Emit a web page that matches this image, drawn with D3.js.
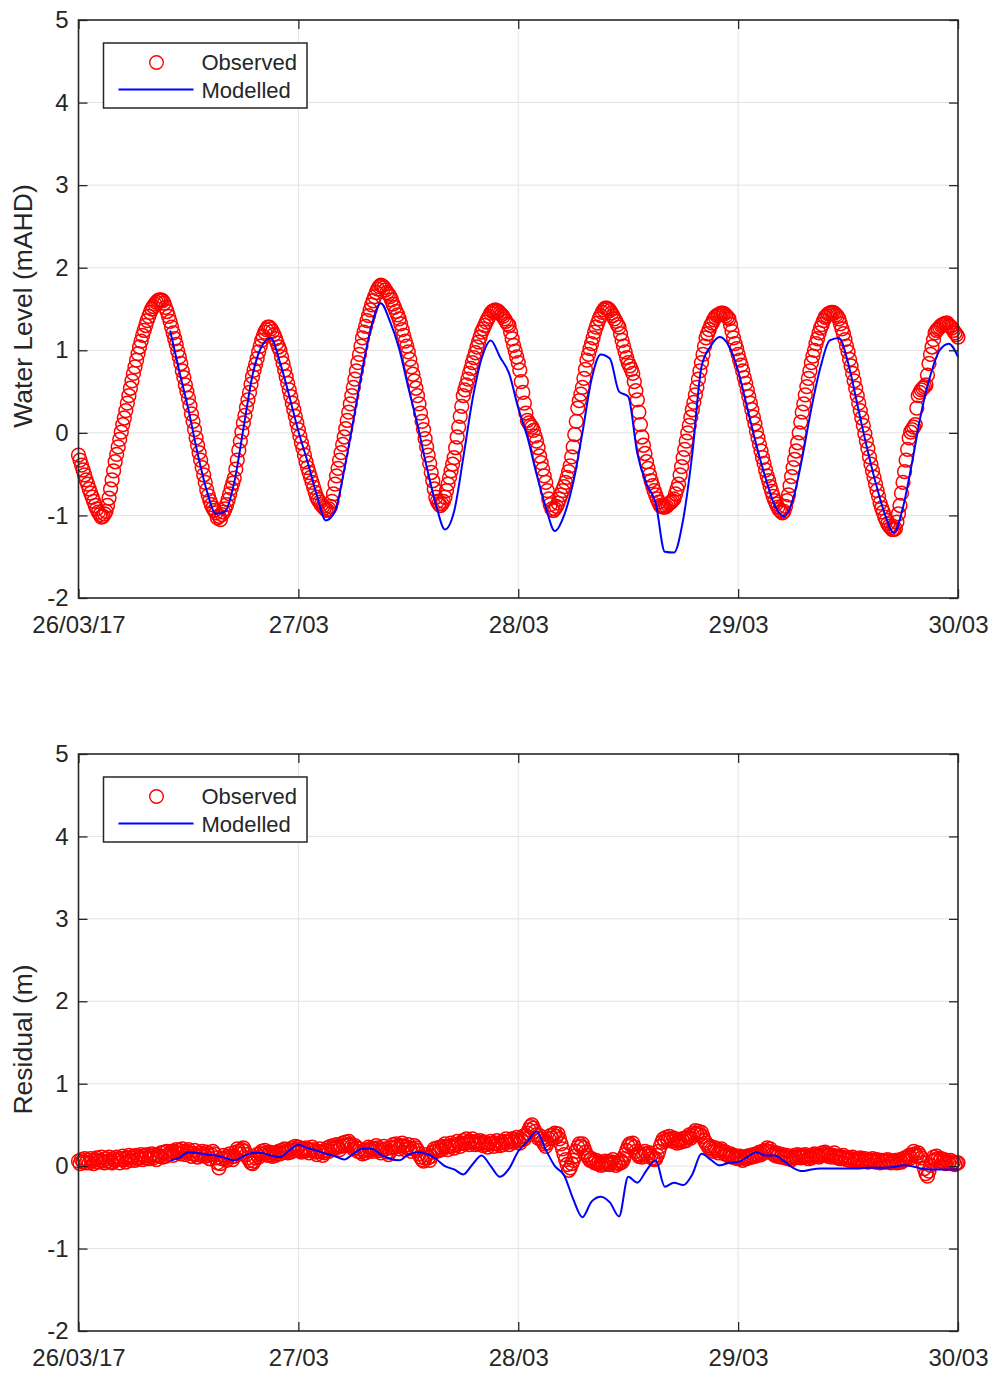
<!DOCTYPE html>
<html>
<head>
<meta charset="utf-8">
<script src="https://cdn.jsdelivr.net/npm/d3@7"></script>
<style>
  html, body { margin: 0; padding: 0; background: #fff; }
  svg text { font-family: "Liberation Sans", Arial, Helvetica, sans-serif; fill: #262626; }
</style>
</head>
<body>
<svg id="fig" width="996" height="1373"></svg>
<script>
// ---- data ---------------------------------------------------------------
const xTickLabels = ["26/03/17", "27/03", "28/03", "29/03", "30/03"];
const yTickValues = [-2, -1, 0, 1, 2, 3, 4, 5];

// observed gauge record: 10-minute samples from 26/03/2017 00:00
const observedStart = new Date(2017, 2, 26, 0, 0);
const observedStepMinutes = 10;
const observedLevel = [
  -0.27,-0.33,-0.39,-0.45,-0.51,-0.57, -0.62,-0.68,-0.73,-0.78,-0.83,-0.88,
  -0.92,-0.96,-0.99,-1.02,-1.01,-0.98, -0.95,-0.88,-0.79,-0.68,-0.57,-0.46,
  -0.35,-0.26,-0.17,-0.08,0.01,0.10, 0.18,0.27,0.36,0.45,0.54,0.63,
  0.72,0.80,0.88,0.96,1.04,1.11, 1.18,1.24,1.30,1.36,1.41,1.46,
  1.50,1.53,1.56,1.58,1.60,1.61, 1.61,1.60,1.57,1.52,1.47,1.41,
  1.35,1.28,1.21,1.14,1.07,0.99, 0.92,0.84,0.75,0.67,0.58,0.50,
  0.42,0.33,0.23,0.14,0.04,-0.06, -0.15,-0.24,-0.33,-0.42,-0.51,-0.60,
  -0.69,-0.76,-0.82,-0.87,-0.91,-0.94, -0.97,-1.03,-1.01,-1.05,-0.99,-0.96,
  -0.92,-0.87,-0.81,-0.74,-0.67,-0.61, -0.55,-0.44,-0.33,-0.21,-0.10,0.01,
  0.12,0.21,0.31,0.40,0.49,0.59, 0.68,0.76,0.83,0.90,0.98,1.05,
  1.12,1.17,1.22,1.25,1.28,1.28, 1.26,1.23,1.19,1.14,1.09,1.04,
  1.00,0.92,0.84,0.76,0.68,0.60, 0.52,0.44,0.36,0.28,0.20,0.12,
  0.04,-0.04,-0.12,-0.19,-0.27,-0.35, -0.42,-0.48,-0.54,-0.60,-0.66,-0.72,
  -0.78,-0.81,-0.84,-0.87,-0.89,-0.91, -0.93,-0.94,-0.92,-0.89,-0.83,-0.74,
  -0.62,-0.52,-0.43,-0.33,-0.24,-0.14, -0.05,0.05,0.15,0.25,0.35,0.45,
  0.55,0.65,0.75,0.85,0.95,1.05, 1.15,1.22,1.29,1.36,1.42,1.49,
  1.55,1.60,1.65,1.70,1.74,1.77, 1.79,1.78,1.76,1.73,1.70,1.68,
  1.65,1.61,1.56,1.52,1.47,1.43, 1.38,1.32,1.25,1.18,1.11,1.05,
  0.98,0.89,0.80,0.71,0.63,0.54, 0.45,0.35,0.24,0.14,0.04,-0.07,
  -0.17,-0.27,-0.37,-0.48,-0.58,-0.68, -0.78,-0.83,-0.86,-0.88,-0.86,-0.83,
  -0.78,-0.70,-0.62,-0.54,-0.46,-0.38, -0.30,-0.18,-0.05,0.07,0.20,0.32,
  0.45,0.52,0.58,0.65,0.72,0.78, 0.85,0.91,0.97,1.04,1.10,1.16,
  1.22,1.26,1.30,1.34,1.38,1.41, 1.45,1.47,1.48,1.49,1.48,1.47,
  1.45,1.43,1.41,1.38,1.35,1.32, 1.30,1.22,1.14,1.06,0.99,0.92,
  0.85,0.76,0.62,0.49,0.36,0.24, 0.15,0.12,0.09,0.07,0.03,-0.04,
  -0.10,-0.18,-0.28,-0.36,-0.44,-0.52, -0.60,-0.70,-0.80,-0.87,-0.92,-0.94,
  -0.92,-0.89,-0.85,-0.80,-0.75,-0.70, -0.65,-0.60,-0.54,-0.47,-0.40,-0.29,
  -0.17,-0.02,0.14,0.30,0.39,0.47, 0.55,0.66,0.77,0.88,0.95,1.02,
  1.08,1.15,1.22,1.28,1.33,1.38, 1.42,1.46,1.49,1.51,1.51,1.50,
  1.48,1.45,1.42,1.38,1.35,1.31, 1.28,1.20,1.12,1.05,0.98,0.91,
  0.85,0.81,0.77,0.72,0.62,0.51, 0.40,0.25,0.10,-0.05,-0.15,-0.25,
  -0.35,-0.43,-0.51,-0.58,-0.64,-0.70, -0.75,-0.80,-0.84,-0.88,-0.89,-0.90,
  -0.90,-0.89,-0.87,-0.85,-0.84,-0.82, -0.80,-0.74,-0.68,-0.62,-0.51,-0.41,
  -0.30,-0.20,-0.10,0.00,0.09,0.19, 0.28,0.37,0.46,0.55,0.65,0.75,
  0.85,0.95,1.05,1.15,1.20,1.25, 1.30,1.33,1.37,1.40,1.42,1.43,
  1.44,1.45,1.45,1.44,1.42,1.40, 1.38,1.31,1.23,1.15,1.08,1.02,
  0.95,0.88,0.82,0.75,0.67,0.60, 0.52,0.44,0.36,0.28,0.19,0.11,
  0.02,-0.06,-0.14,-0.22,-0.30,-0.37, -0.45,-0.52,-0.58,-0.65,-0.71,-0.77,
  -0.82,-0.86,-0.90,-0.93,-0.95,-0.97, -0.95,-0.89,-0.82,-0.75,-0.64,-0.53,
  -0.42,-0.32,-0.22,-0.12,0.00,0.13, 0.25,0.35,0.46,0.56,0.66,0.75,
  0.85,0.93,1.00,1.08,1.14,1.21, 1.27,1.31,1.36,1.40,1.42,1.44,
  1.45,1.46,1.46,1.45,1.43,1.41, 1.38,1.32,1.26,1.20,1.13,1.05,
  0.98,0.89,0.81,0.72,0.63,0.54, 0.45,0.36,0.27,0.18,0.09,-0.01,
  -0.10,-0.19,-0.29,-0.38,-0.46,-0.54, -0.62,-0.70,-0.77,-0.85,-0.91,-0.96,
  -1.02,-1.06,-1.10,-1.13,-1.15,-1.17, -1.17,-1.16,-1.08,-0.98,-0.88,-0.73,
  -0.60,-0.47,-0.33,-0.20,-0.06,0.01, 0.04,0.07,0.10,0.30,0.45,0.49,
  0.52,0.54,0.56,0.58,0.70,0.84, 0.95,1.04,1.13,1.21,1.24,1.26,
  1.28,1.30,1.31,1.32,1.33,1.33, 1.30,1.29,1.27,1.24,1.21,1.19,
  1.16
];
const observedResidual = [
  0.06,0.03,0.08,0.05,0.09,0.04, 0.07,0.04,0.09,0.06,0.03,0.08,
  0.10,0.05,0.07,0.11,0.06,0.04, 0.09,0.06,0.11,0.05,0.04,0.09,
  0.07,0.11,0.08,0.04,0.09,0.12, 0.08,0.05,0.10,0.13,0.07,0.10,
  0.12,0.07,0.13,0.09,0.11,0.14, 0.08,0.12,0.10,0.14,0.09,0.12,
  0.15,0.10,0.13,0.08,0.14,0.12, 0.16,0.11,0.17,0.12,0.18,0.14,
  0.15,0.18,0.13,0.17,0.20,0.16, 0.19,0.15,0.21,0.17,0.14,0.18,
  0.20,0.16,0.12,0.15,0.19,0.14, 0.11,0.16,0.13,0.18,0.15,0.12,
  0.17,0.13,0.09,0.14,0.18,0.15, 0.10,0.04,-0.02,0.03,0.09,0.13,
  0.10,0.07,0.12,0.15,0.11,0.08, 0.12,0.17,0.21,0.18,0.15,0.20,
  0.22,0.18,0.14,0.10,0.07,0.04, 0.03,0.06,0.10,0.14,0.11,0.15,
  0.18,0.15,0.19,0.16,0.13,0.17, 0.14,0.12,0.16,0.13,0.15,0.18,
  0.15,0.19,0.17,0.21,0.18,0.16, 0.20,0.17,0.22,0.19,0.24,0.21,
  0.23,0.19,0.17,0.21,0.18,0.22, 0.20,0.16,0.19,0.23,0.20,0.17,
  0.14,0.18,0.21,0.17,0.13,0.16, 0.19,0.22,0.18,0.24,0.21,0.25,
  0.22,0.26,0.23,0.20,0.24,0.28, 0.25,0.29,0.26,0.30,0.27,0.24,
  0.21,0.25,0.22,0.18,0.21,0.17, 0.15,0.19,0.16,0.20,0.23,0.19,
  0.22,0.18,0.21,0.25,0.22,0.19, 0.16,0.20,0.24,0.21,0.17,0.14,
  0.18,0.22,0.26,0.23,0.27,0.24, 0.21,0.25,0.28,0.24,0.20,0.23,
  0.26,0.22,0.18,0.21,0.25,0.22, 0.19,0.15,0.11,0.08,0.06,0.10,
  0.14,0.10,0.07,0.12,0.17,0.21, 0.18,0.22,0.19,0.23,0.20,0.24,
  0.27,0.23,0.20,0.24,0.28,0.25, 0.22,0.26,0.30,0.27,0.24,0.28,
  0.31,0.27,0.33,0.29,0.26,0.30, 0.33,0.29,0.26,0.30,0.27,0.31,
  0.28,0.25,0.29,0.26,0.23,0.27, 0.30,0.27,0.24,0.28,0.31,0.27,
  0.25,0.29,0.26,0.30,0.33,0.29, 0.26,0.30,0.33,0.29,0.32,0.35,
  0.31,0.28,0.32,0.36,0.33,0.37, 0.40,0.44,0.48,0.50,0.46,0.42,
  0.38,0.34,0.37,0.33,0.30,0.27, 0.24,0.28,0.33,0.37,0.34,0.38,
  0.40,0.36,0.39,0.33,0.27,0.21, 0.14,0.08,0.02,-0.05,-0.02,0.03,
  0.07,0.12,0.18,0.23,0.27,0.24, 0.27,0.22,0.17,0.13,0.10,0.07,
  0.09,0.06,0.04,0.07,0.03,0.05, 0.01,0.04,0.02,0.06,0.03,0.05,
  0.02,0.05,0.08,0.04,0.01,0.04, 0.03,0.07,0.05,0.09,0.14,0.19,
  0.24,0.27,0.25,0.28,0.23,0.18, 0.15,0.12,0.14,0.11,0.15,0.18,
  0.15,0.12,0.16,0.13,0.10,0.08, 0.09,0.13,0.18,0.24,0.29,0.33,
  0.30,0.35,0.32,0.36,0.33,0.30, 0.34,0.31,0.28,0.32,0.29,0.33,
  0.30,0.34,0.31,0.35,0.38,0.34, 0.37,0.40,0.43,0.39,0.42,0.38,
  0.41,0.36,0.31,0.28,0.25,0.22, 0.24,0.21,0.18,0.22,0.19,0.16,
  0.19,0.21,0.18,0.15,0.17,0.14, 0.12,0.15,0.11,0.13,0.10,0.12,
  0.09,0.12,0.10,0.07,0.11,0.09, 0.12,0.10,0.13,0.11,0.14,0.12,
  0.15,0.13,0.17,0.14,0.18,0.16, 0.19,0.22,0.18,0.21,0.17,0.15,
  0.13,0.16,0.12,0.15,0.11,0.14, 0.12,0.10,0.13,0.09,0.11,0.08,
  0.10,0.13,0.11,0.14,0.12,0.10, 0.13,0.11,0.14,0.12,0.09,0.12,
  0.10,0.13,0.15,0.12,0.14,0.11, 0.13,0.16,0.14,0.17,0.15,0.12,
  0.14,0.11,0.13,0.16,0.12,0.10, 0.12,0.09,0.11,0.13,0.10,0.08,
  0.10,0.07,0.09,0.11,0.08,0.06, 0.09,0.07,0.10,0.08,0.06,0.09,
  0.07,0.05,0.08,0.06,0.09,0.07, 0.05,0.08,0.06,0.04,0.07,0.05,
  0.07,0.05,0.08,0.06,0.04,0.06, 0.05,0.07,0.04,0.06,0.08,0.05,
  0.07,0.10,0.08,0.11,0.13,0.10, 0.14,0.18,0.15,0.12,0.16,0.13,
  0.10,0.04,-0.03,-0.09,-0.12,-0.06, 0.01,0.06,0.11,0.08,0.12,0.09,
  0.06,0.09,0.05,0.08,0.03,0.06, 0.04,0.07,0.03,0.05,0.02,0.04,
  0.04
];

// hydrodynamic model output: hourly from 26/03/2017 10:00
const modelledStart = new Date(2017, 2, 26, 10, 0);
const modelledStepMinutes = 60;
const modelledLevel = [
  1.24, 0.75, 0.28,-0.25,-0.70,-0.98,-0.95,-0.60, 0.05, 0.70, 1.05, 1.15, 0.85, 0.45,
  0.02,-0.35,-0.75,-1.06,-0.95,-0.45, 0.15, 0.78, 1.30, 1.57, 1.35, 1.02, 0.55, 0.10,
 -0.41,-0.86,-1.17,-0.95,-0.30, 0.40, 0.90, 1.12, 0.92, 0.72, 0.30,-0.05,-0.50,-0.90,
 -1.19,-1.00,-0.60, 0.00, 0.65, 0.95, 0.90, 0.50, 0.44,-0.25,-0.62,-0.85,-1.44,-1.45,
 -1.05,-0.25, 0.80, 1.05, 1.16, 1.05, 0.75, 0.30,-0.15,-0.55,-0.88,-1.01,-0.80,-0.30,
  0.30, 0.80, 1.12, 1.15, 0.85, 0.35,-0.15,-0.60,-0.98,-1.21,-0.90,-0.35, 0.25, 0.70,
  1.00, 1.08, 0.92
];
const modelledResidual = [
  0.07, 0.10, 0.17, 0.16, 0.14, 0.13, 0.10, 0.07, 0.12, 0.16, 0.16, 0.13, 0.11, 0.19,
  0.26, 0.22, 0.19, 0.15, 0.12, 0.08, 0.15, 0.21, 0.21, 0.14, 0.09, 0.07, 0.14, 0.17,
  0.15, 0.09, 0.00,-0.04,-0.10, 0.02, 0.13, 0.00,-0.13,-0.03, 0.18, 0.30, 0.42, 0.20,
  0.00,-0.11,-0.40,-0.62,-0.43,-0.37,-0.44,-0.61,-0.13,-0.20,-0.05, 0.07,-0.25,-0.20,
 -0.23,-0.10, 0.15, 0.08, 0.01, 0.04, 0.05, 0.11, 0.17, 0.13, 0.13, 0.06,-0.02,-0.06,
 -0.04,-0.03,-0.03,-0.03,-0.03,-0.03,-0.02,-0.02,-0.02,-0.01, 0.01, 0.00,-0.03,-0.04,
 -0.04,-0.04,-0.04
];

// ---- drawing ------------------------------------------------------------
const svg = d3.select("#fig");
svg.append("rect").attr("width", 996).attr("height", 1373).attr("fill", "#fff");

const fontStack = '"Liberation Sans", Arial, Helvetica, sans-serif';
const axisColor = "#262626";
const gridColor = "#e3e3e3";
const tickFont = 24;
const left = 78.5, right = 958;

const x = d3.scaleTime()
  .domain([new Date(2017, 2, 26), new Date(2017, 2, 30)])
  .range([left, right]);
const xTickDates = d3.range(xTickLabels.length).map(i => new Date(2017, 2, 26 + i));

function series(start, stepMinutes, values) {
  return values.map((v, i) => ({ t: d3.timeMinute.offset(start, i * stepMinutes), v }));
}

function panel(top, bottom, obsValues, modValues, yLabel) {
  const y = d3.scaleLinear().domain([-2, 5]).range([bottom, top]);
  const g = svg.append("g");

  // grid
  g.append("g").selectAll("line").data(yTickValues.slice(1, -1)).join("line")
    .attr("x1", left).attr("x2", right)
    .attr("y1", d => y(d)).attr("y2", d => y(d))
    .attr("stroke", gridColor).attr("stroke-width", 1);
  g.append("g").selectAll("line").data(xTickDates.slice(1, -1)).join("line")
    .attr("x1", d => x(d)).attr("x2", d => x(d))
    .attr("y1", top).attr("y2", bottom)
    .attr("stroke", gridColor).attr("stroke-width", 1);

  // observed markers
  g.append("g").selectAll("circle")
    .data(series(observedStart, observedStepMinutes, obsValues)).join("circle")
    .attr("cx", d => x(d.t)).attr("cy", d => y(d.v)).attr("r", 6.9)
    .attr("fill", "none").attr("stroke", "#ff0000").attr("stroke-width", 1.5);

  // modelled line
  const line = d3.line().curve(d3.curveMonotoneX).x(d => x(d.t)).y(d => y(d.v));
  g.append("path")
    .datum(series(modelledStart, modelledStepMinutes, modValues))
    .attr("d", line).attr("fill", "none")
    .attr("stroke", "#0000ff").attr("stroke-width", 2).attr("stroke-linejoin", "round");

  // axes with inward ticks
  const styleAxis = sel => {
    sel.select(".domain").remove();
    sel.selectAll(".tick line").attr("stroke", axisColor).attr("stroke-width", 1.3);
    sel.selectAll(".tick text").attr("fill", axisColor)
      .style("font-size", tickFont + "px")
      .style("font-family", fontStack);
  };
  g.append("g").attr("transform", `translate(${left},0)`)
    .call(d3.axisLeft(y).tickValues(yTickValues).tickFormat(d => String(d))
      .tickSize(-9).tickPadding(10))
    .call(styleAxis);
  g.append("g").attr("transform", `translate(${right},0)`)
    .call(d3.axisRight(y).tickValues(yTickValues).tickFormat("").tickSize(-9))
    .call(styleAxis);
  g.append("g").attr("transform", `translate(0,${bottom})`)
    .call(d3.axisBottom(x).tickValues(xTickDates).tickFormat((d, i) => xTickLabels[i])
      .tickSize(-9).tickPadding(18))
    .call(styleAxis);
  g.append("g").attr("transform", `translate(0,${top})`)
    .call(d3.axisTop(x).tickValues(xTickDates).tickFormat("").tickSize(-9))
    .call(styleAxis);

  // box
  g.append("rect").attr("x", left).attr("y", top)
    .attr("width", right - left).attr("height", bottom - top)
    .attr("fill", "none").attr("stroke", axisColor).attr("stroke-width", 1.6);

  // y label
  g.append("text")
    .attr("transform", `translate(32,${(top + bottom) / 2 - 3}) rotate(-90)`)
    .attr("text-anchor", "middle")
    .style("font-size", "26.5px")
    .text(yLabel);

  // legend
  const lg = g.append("g").attr("transform", `translate(103.5,${top + 23})`);
  lg.append("rect").attr("width", 203.5).attr("height", 65)
    .attr("fill", "#fff").attr("stroke", axisColor).attr("stroke-width", 1.5);
  lg.append("circle").attr("cx", 53).attr("cy", 19.5).attr("r", 6.8)
    .attr("fill", "none").attr("stroke", "#ff0000").attr("stroke-width", 1.4);
  lg.append("line").attr("x1", 15).attr("x2", 90).attr("y1", 46.5).attr("y2", 46.5)
    .attr("stroke", "#0000ff").attr("stroke-width", 2);
  lg.append("text").attr("x", 98).attr("y", 27).style("font-size", "22px").text("Observed");
  lg.append("text").attr("x", 98).attr("y", 55).style("font-size", "22px").text("Modelled");
}

panel(20, 598, observedLevel, modelledLevel, "Water Level (mAHD)");
panel(754, 1331, observedResidual, modelledResidual, "Residual (m)");
</script>
</body>
</html>
